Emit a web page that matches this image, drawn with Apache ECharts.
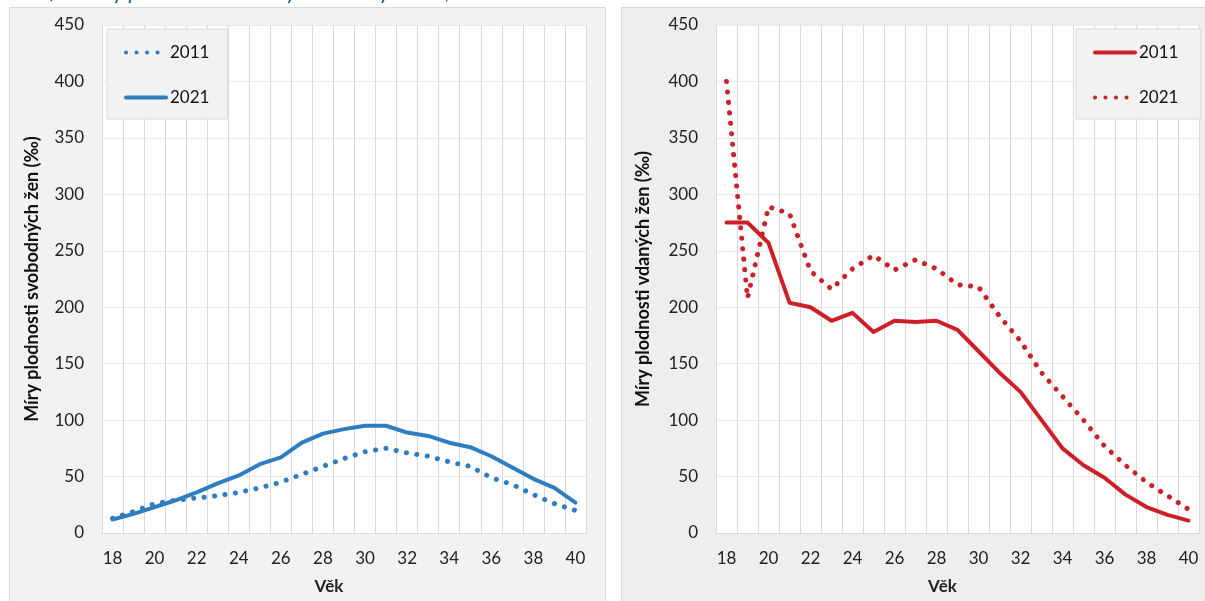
<!DOCTYPE html>
<html>
<head>
<meta charset="utf-8">
<script src="https://cdn.jsdelivr.net/npm/echarts@6/dist/echarts.min.js"></script>
<style>
html,body{margin:0;padding:0;background:#fff;}
#chart{width:1205px;height:601px;}
</style>
</head>
<body>
<div id="chart"></div>
<script>
var ages = ['18','19','20','21','22','23','24','25','26','27','28','29','30','31','32','33','34','35','36','37','38','39','40'];
var yTicks = [0, 450, 50];
var single2011 = [13, 19, 26, 29, 31, 33, 36, 40, 45, 52, 59, 66, 72, 75, 71, 68, 63, 59, 49, 43, 34, 26, 20];
var single2021 = [12, 17, 23, 29, 36, 44, 51, 61, 67, 80, 88, 92, 95, 95, 89, 86, 80, 76, 68, 58, 48, 40, 27];
var married2011 = [275, 275, 257, 204, 200, 188, 195, 178, 188, 187, 188, 180, 161, 142, 125, 100, 75, 60, 49, 34, 23, 16, 11];
var married2021 = [400, 208, 289, 283, 232, 216, 234, 246, 233, 242, 234, 220, 218, 192, 170, 142, 121, 100, 77, 60, 45, 33, 21];
var titleText = 'Graf 4: Míry plodnosti svobodných a vdaných žen, 2011 a 2021';
var leftYName = 'Míry plodnosti svobodných žen (‰)';
var rightYName = 'Míry plodnosti vdaných žen (‰)';
var xName = 'Věk';

var FONT = 'Lato, "Open Sans", sans-serif';
var BLUE = '#2e7dc0';
var RED = '#cc1f26';
var DOT = [0.1, 10.4];

function xAxis(gi){
  return {
    type:'category', gridIndex:gi, data:ages, boundaryGap:true,
    axisLine:{show:true, lineStyle:{color:'#d9d9d9', width:1}},
    axisTick:{show:false},
    axisLabel:{interval:1, color:'#222', fontFamily:FONT, fontSize:17, margin:17},
    splitLine:{show:true, interval:0, lineStyle:{color:'#d9d9d9', width:1}},
    name:xName, nameLocation:'middle', nameGap:45,
    nameTextStyle:{color:'#222', fontFamily:FONT, fontSize:17, fontWeight:'bold', padding:[0,30,0,0]}
  };
}
function yAxis(gi, name, gap){
  return {
    type:'value', gridIndex:gi, min:yTicks[0], max:yTicks[1], interval:yTicks[2],
    axisLine:{show:false}, axisTick:{show:false},
    axisLabel:{color:'#222', fontFamily:FONT, fontSize:17, margin:18},
    splitLine:{show:true, lineStyle:{color:'#ebebeb', width:1}},
    name:name, nameLocation:'middle', nameGap:gap, nameRotate:90,
    nameTextStyle:{color:'#111', fontFamily:FONT, fontSize:18, fontWeight:'bold'}
  };
}
function lineSeries(name, gi, data, color, dotted){
  return {
    type:'line', name:name, xAxisIndex:gi, yAxisIndex:gi, data:data,
    symbol:'none', smooth:false, animation:false,
    lineStyle:{color:color, width: dotted ? 5 : 4, type: dotted ? DOT : 'solid', cap:'round', join:'round'},
    itemStyle:{color:color}
  };
}
function legend(left, names){
  return {
    orient:'vertical', left:left, top:29, padding:[15,18,13,17], itemGap:28,
    itemWidth:40, itemHeight:14,
    backgroundColor:'#f2f2f2', borderColor:'#d9d9d9', borderWidth:1,
    itemStyle:{color:'rgba(0,0,0,0)', borderWidth:0, opacity:0},
    lineStyle:{width:4, cap:'round'},
    textStyle:{color:'#111', fontFamily:FONT, fontSize:17, padding:[0,0,0,-1]},
    data:names
  };
}

var chart = echarts.init(document.getElementById('chart'), null, {renderer:'canvas'});
chart.setOption({
  animation:false,
  backgroundColor:'#ffffff',
  graphic:[
    {type:'rect', z:-10, shape:{x:9.5, y:7.5, width:596, height:600}, style:{fill:'#f2f2f2', stroke:'#d9d9d9', lineWidth:1}},
    {type:'rect', z:-10, shape:{x:621.5, y:7.5, width:590, height:600}, style:{fill:'#eeeeee', stroke:'#d9d9d9', lineWidth:1}},
    {type:'text', z:5, left:18, top:-18, style:{text:titleText, fill:'#1f4e8c', font:'italic 21px ' + FONT}}
  ],
  grid:[
    {left:102, top:25, width:484, height:508, backgroundColor:'#ffffff', show:true, borderWidth:0},
    {left:716, top:25, width:483, height:508, backgroundColor:'#ffffff', show:true, borderWidth:0}
  ],
  xAxis:[xAxis(0), xAxis(1)],
  yAxis:[yAxis(0, leftYName, 61), yAxis(1, rightYName, 64)],
  legend:[
    legend(107, ['2011','2021']),
    legend(1076, ['2011 ','2021 '])
  ],
  series:[
    lineSeries('2011', 0, single2011, BLUE, true),
    lineSeries('2021', 0, single2021, BLUE, false),
    lineSeries('2011 ', 1, married2011, RED, false),
    lineSeries('2021 ', 1, married2021, RED, true)
  ]
});
</script>
</body>
</html>
